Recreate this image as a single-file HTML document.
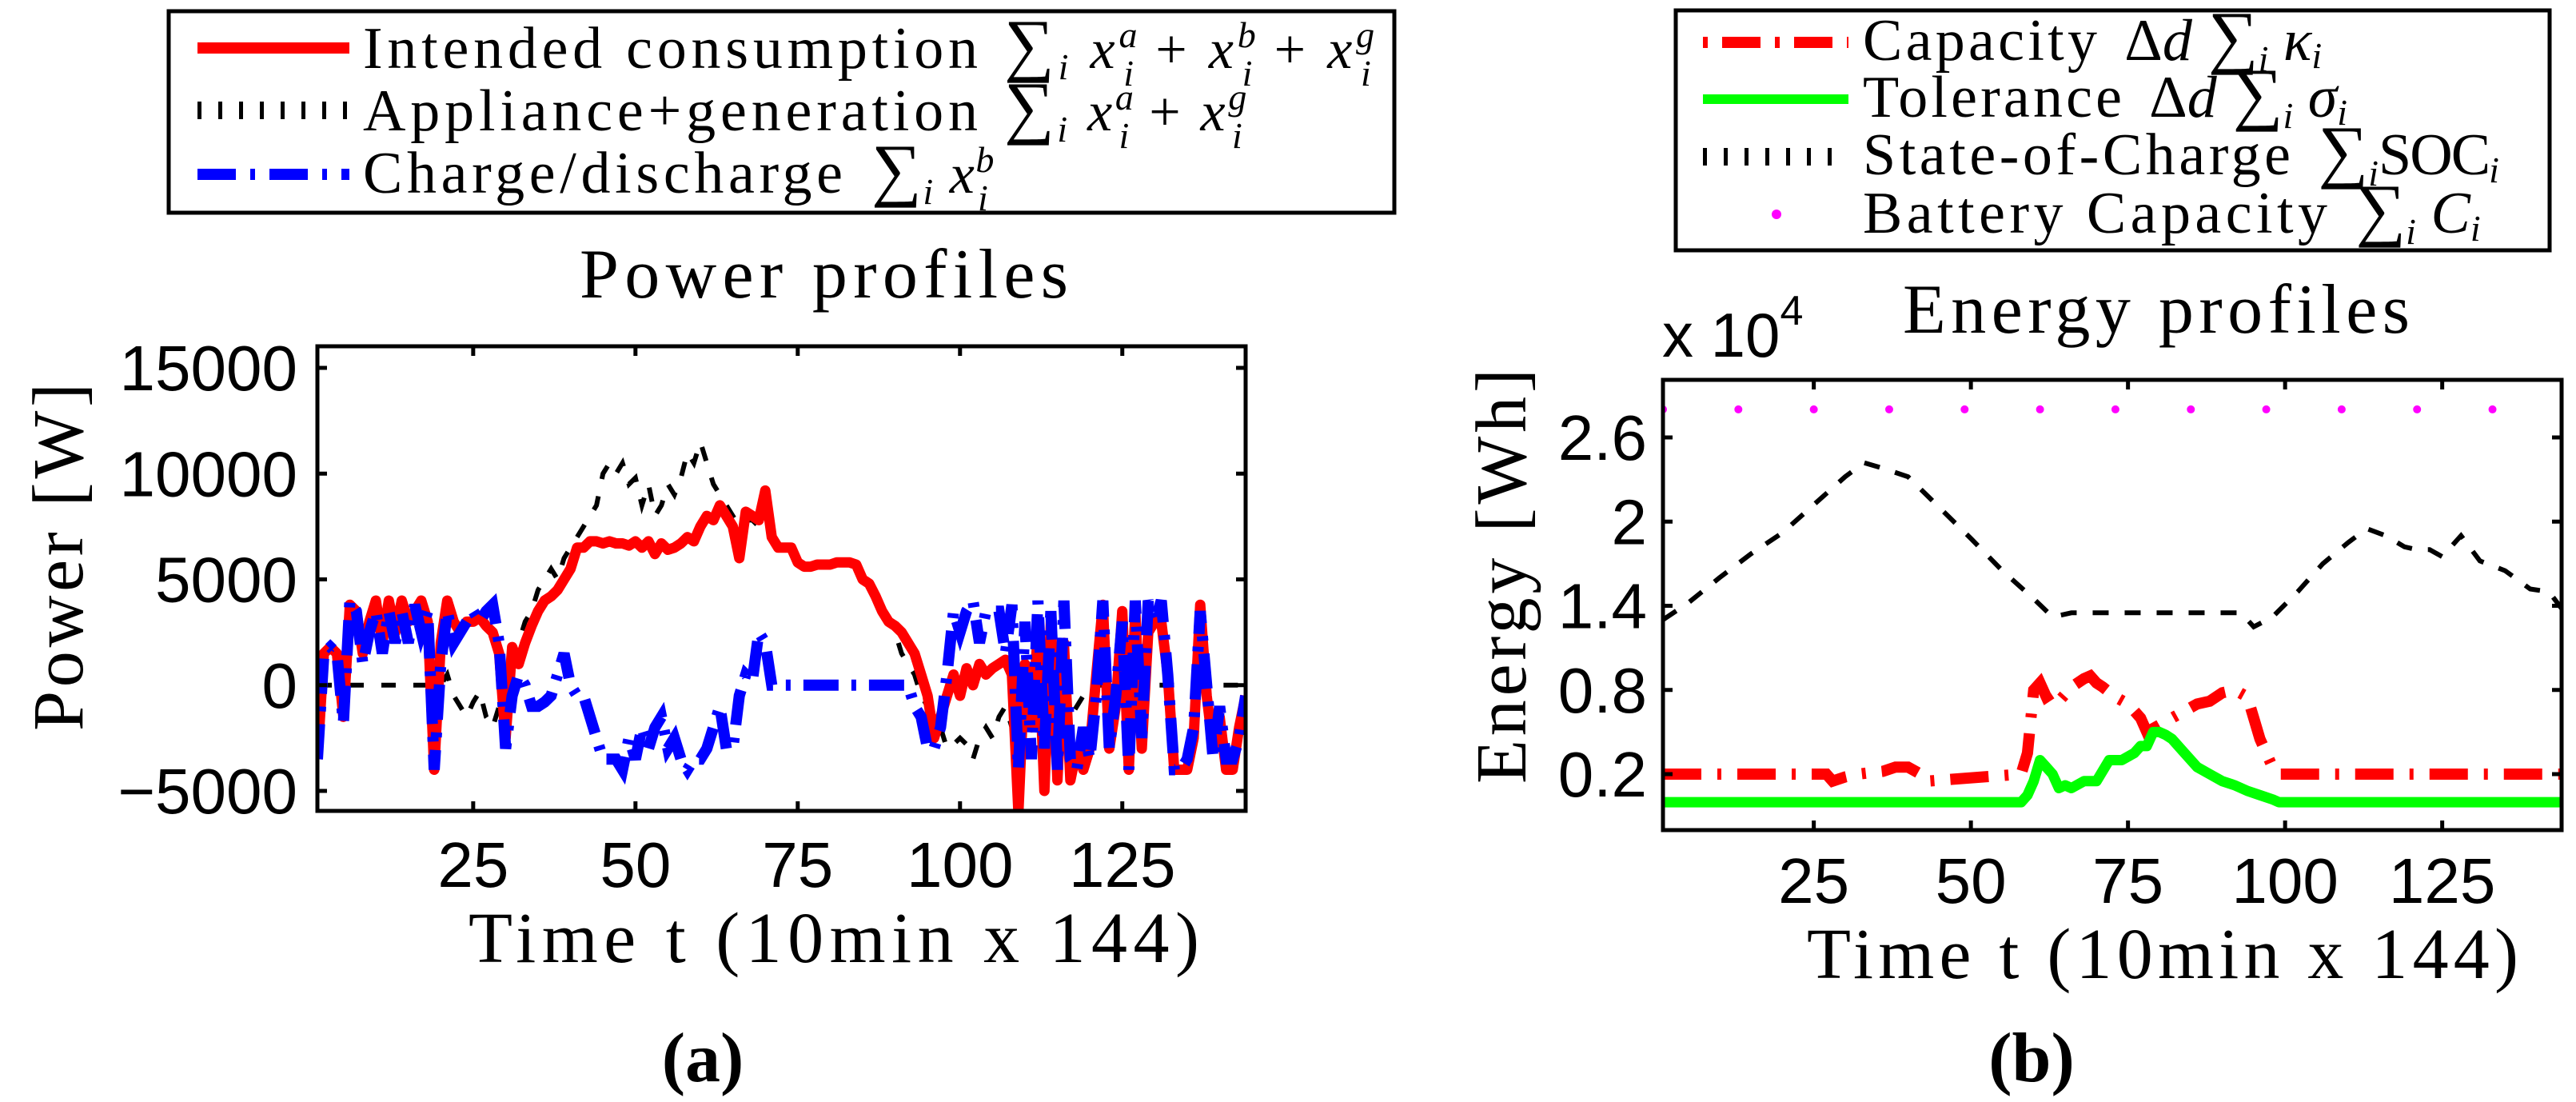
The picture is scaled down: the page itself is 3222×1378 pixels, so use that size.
<!DOCTYPE html>
<html><head><meta charset="utf-8"><style>
html,body{margin:0;padding:0;background:#fff;}
svg{display:block;}
.serif{font-family:"Liberation Serif",serif;}
.sans{font-family:"Liberation Sans",sans-serif;}
</style></head><body>
<svg id="fig" width="3222" height="1378" viewBox="0 0 3222 1378" xmlns="http://www.w3.org/2000/svg">
<rect width="3222" height="1378" fill="#fff"/>
<g>
<rect x="211" y="14" width="1533" height="252" fill="#fff" stroke="#000" stroke-width="5"/>
<line x1="247" y1="60" x2="437" y2="60" stroke="#f00" stroke-width="14"/>
<line x1="247" y1="138" x2="437" y2="138" stroke="#000" stroke-width="22" stroke-dasharray="5 21"/>
<line x1="247" y1="218" x2="437" y2="218" stroke="#00f" stroke-width="14" stroke-dasharray="48 18 6 18"/>
<text class="serif" x="454" y="85" font-size="74" textLength="769" lengthAdjust="spacing">Intended consumption</text>
<text class="serif" x="1256" y="85" font-size="70" textLength="468" lengthAdjust="spacing"><tspan font-size="88">∑</tspan><tspan font-style="italic" font-size="46" dy="14">i</tspan><tspan font-style="italic" dy="-14"> x</tspan><tspan font-style="italic" font-size="46" dy="-26">a</tspan><tspan font-style="italic" font-size="46" dx="-22" dy="48">i</tspan><tspan dy="-22"> + </tspan><tspan font-style="italic">x</tspan><tspan font-style="italic" font-size="46" dy="-26">b</tspan><tspan font-style="italic" font-size="46" dx="-22" dy="48">i</tspan><tspan dy="-22"> + </tspan><tspan font-style="italic">x</tspan><tspan font-style="italic" font-size="46" dy="-26">g</tspan><tspan font-style="italic" font-size="46" dx="-22" dy="48">i</tspan></text>
<text class="serif" x="454" y="163" font-size="74" textLength="769" lengthAdjust="spacing">Appliance+generation</text>
<text class="serif" x="1256" y="163" font-size="70" textLength="307" lengthAdjust="spacing"><tspan font-size="88">∑</tspan><tspan font-style="italic" font-size="46" dy="14">i</tspan><tspan font-style="italic" dy="-14"> x</tspan><tspan font-style="italic" font-size="46" dy="-26">a</tspan><tspan font-style="italic" font-size="46" dx="-22" dy="48">i</tspan><tspan dy="-22"> + </tspan><tspan font-style="italic">x</tspan><tspan font-style="italic" font-size="46" dy="-26">g</tspan><tspan font-style="italic" font-size="46" dx="-22" dy="48">i</tspan></text>
<text class="serif" x="454" y="241" font-size="74" textLength="600" lengthAdjust="spacing">Charge/discharge</text>
<text class="serif" x="1090" y="241" font-size="70" textLength="155" lengthAdjust="spacing"><tspan font-size="88">∑</tspan><tspan font-style="italic" font-size="46" dy="14">i</tspan><tspan font-style="italic" dy="-14"> x</tspan><tspan font-style="italic" font-size="46" dy="-26">b</tspan><tspan font-style="italic" font-size="46" dx="-22" dy="48">i</tspan></text>
</g>
<g>
<rect x="2096" y="13" width="1093" height="300" fill="#fff" stroke="#000" stroke-width="5"/>
<line x1="2130" y1="53" x2="2312" y2="53" stroke="#f00" stroke-width="14" stroke-dasharray="6 18 48 18"/>
<line x1="2130" y1="124" x2="2312" y2="124" stroke="#0f0" stroke-width="12"/>
<line x1="2130" y1="196" x2="2312" y2="196" stroke="#000" stroke-width="22" stroke-dasharray="5 21"/>
<circle cx="2222" cy="268" r="6" fill="#f0f"/>
<text class="serif" x="2330" y="75" font-size="74"><tspan textLength="293" lengthAdjust="spacing">Capacity</tspan><tspan dx="30">Δ</tspan><tspan font-style="italic">d</tspan><tspan dx="20" font-size="88">∑</tspan><tspan font-style="italic" font-size="46" dy="14">i</tspan><tspan font-style="italic" dy="-14"> κ</tspan><tspan font-style="italic" font-size="46" dy="10">i</tspan></text>
<text class="serif" x="2330" y="146" font-size="74"><tspan textLength="324" lengthAdjust="spacing">Tolerance</tspan><tspan dx="30">Δ</tspan><tspan font-style="italic">d</tspan><tspan dx="20" font-size="88">∑</tspan><tspan font-style="italic" font-size="46" dy="14">i</tspan><tspan font-style="italic" dy="-14"> σ</tspan><tspan font-style="italic" font-size="46" dy="10">i</tspan></text>
<text class="serif" x="2330" y="218" font-size="74"><tspan textLength="535" lengthAdjust="spacing">State-of-Charge</tspan><tspan dx="30" font-size="88">∑</tspan><tspan font-style="italic" font-size="46" dy="14">i</tspan><tspan dy="-14" textLength="140" lengthAdjust="spacing">SOC</tspan><tspan font-style="italic" font-size="46" dy="10">i</tspan></text>
<text class="serif" x="2330" y="291" font-size="74"><tspan textLength="581" lengthAdjust="spacing">Battery Capacity</tspan><tspan dx="30" font-size="88">∑</tspan><tspan font-style="italic" font-size="46" dy="14">i</tspan><tspan font-style="italic" dy="-14"> C</tspan><tspan font-style="italic" font-size="46" dy="10">i</tspan></text>
</g>
<text class="serif" x="725" y="372" font-size="88" textLength="611" lengthAdjust="spacing">Power profiles</text>
<text class="serif" x="2380" y="416" font-size="88" textLength="634" lengthAdjust="spacing">Energy profiles</text>
<text class="serif" x="586" y="1203" font-size="90" textLength="914" lengthAdjust="spacing">Time t (10min x 144)</text>
<text class="serif" x="2260" y="1223" font-size="90" textLength="890" lengthAdjust="spacing">Time t (10min x 144)</text>
<text class="serif" transform="translate(103,914) rotate(-90)" x="0" y="0" font-size="90" textLength="435" lengthAdjust="spacing">Power [W]</text>
<text class="serif" transform="translate(1908,980) rotate(-90)" x="0" y="0" font-size="90" textLength="519" lengthAdjust="spacing">Energy [Wh]</text>
<text class="sans" x="2079" y="446" font-size="78">x 10<tspan font-size="52" dy="-40">4</tspan></text>
<text class="serif" x="879" y="1352" font-size="88" font-weight="bold" text-anchor="middle">(a)</text>
<text class="serif" x="2541" y="1352" font-size="88" font-weight="bold" text-anchor="middle">(b)</text>
<g id="gA"></g>
<g id="gB"></g>
</svg>
<script>
const timeSteps = Array.from({length:144},(_, i)=>i+1);
const intendedW = [-3500,1500,1800,1500,-1500,3800,3500,1500,3000,4000,2000,4000,2500,4000,3000,3500,4000,3000,-4000,2000,4000,3000,2500,3000,3000,3200,2800,2500,1500,-2500,1800,1000,2000,2800,3500,4000,4200,4500,5000,5500,6500,6500,6800,6800,6700,6800,6700,6700,6600,6800,6500,6800,6200,6700,6400,6500,6700,7000,6800,7500,8000,7800,8500,8000,7500,6000,8200,8000,7800,9200,7000,6500,6500,6500,5800,5600,5600,5700,5700,5700,5800,5800,5800,5700,5000,4800,4200,3500,3000,2800,2500,2000,1500,500,-500,-2500,-1500,-500,500,-500,800,0,1000,500,800,1000,1200,500,-6000,1000,-2000,2500,-5000,3000,-4500,2000,-4500,-3000,-4000,-3000,500,3800,-3000,-1000,3500,-4000,3500,-3000,2500,3000,3000,500,-4000,-4000,-4000,-2500,3800,-500,-3000,-1500,-4000,-4000,-2000,-500];
const applianceW = [0,0,0,0,0,0,0,0,0,0,0,0,0,0,0,0,0,0,0,0,500,-500,-1000,-1500,-800,-300,-1500,-2000,-1000,0,1500,2000,3000,3500,4500,5000,5500,5000,6000,6500,7000,7500,8000,8500,10000,10500,10000,10500,9500,9800,8500,9500,8000,8500,9500,9000,9800,11000,10500,11500,10500,9500,9000,8500,8000,7500,7800,7800,7500,7500,7000,6500,6500,6200,5800,5700,5700,5700,5700,5700,5700,5700,5700,5700,5000,4800,4200,3500,3000,2500,1500,1000,500,-500,-1000,-1500,-2000,-3000,-2800,-2500,-2800,-3500,-2500,-2000,-2500,-1500,-1000,-2000,-1500,-1000,-500,-1000,-1500,-800,-500,-1000,-1500,-1000,-500,-200,0,0,0,0,0,0,0,0,0,0,0,0,0,0,0,0,0,0,0,0,0,0,0,0];
const chargeW = [-3500,1500,1800,1500,-1800,4000,3500,1000,2500,3500,1500,3500,2000,3500,2000,3800,2500,3500,-4000,1000,3500,2000,2500,3000,3500,3000,3500,3800,2000,-3000,-500,500,0,-1000,-1000,-800,-500,500,1500,0,-500,-500,-1500,-2500,-3500,-3500,-3500,-4000,-2500,-3500,-2000,-3000,-2000,-1500,-3000,-2500,-3500,-4000,-3500,-3500,-3000,-2000,-1000,-3000,-3000,-500,500,200,2500,2000,0,0,0,0,0,0,0,0,0,0,0,0,0,0,0,0,0,0,0,0,0,0,-1000,-1500,-3000,-3000,-2000,500,3500,2500,3500,4000,2000,3500,3500,3500,1500,3800,-4000,3000,-3500,4000,-3000,3500,-4000,4000,-3500,-4000,-2000,-3500,-500,4000,-3000,-500,3000,-4000,4000,-2500,4000,3000,4000,500,-4000,-4000,-3500,-2000,3500,0,-3500,-1000,-3500,-3500,-2500,-500];
const powerTicks = [-5000,0,5000,10000,15000];
const timeTicks = [25,50,75,100,125];

const energySteps = [1,5,10,15,20,25,30,33,36,40,45,50,55,60,63,66,70,75,80,85,90,93,95,98,102,106,110,113,116,119,121,123,125,128,131,135,139,142,144];
const socE4 = [1.3,1.42,1.6,1.77,1.92,2.12,2.32,2.42,2.38,2.32,2.1,1.88,1.65,1.45,1.32,1.35,1.35,1.35,1.35,1.35,1.35,1.35,1.25,1.32,1.5,1.7,1.85,1.95,1.9,1.82,1.8,1.8,1.75,1.9,1.72,1.65,1.52,1.5,1.38];
const capSteps = [1,27,28,30,32,36,38,40,42,43,58,59,60,61,62,63,64,66,68,69,70,71,73,75,77,78,80,82,84,86,88,90,92,94,95,96,97,98,99,144];
const capacityE4 = [0.2,0.2,0.15,0.18,0.2,0.22,0.25,0.25,0.2,0.15,0.2,0.35,0.8,0.85,0.75,0.78,0.72,0.82,0.88,0.9,0.85,0.82,0.75,0.7,0.6,0.5,0.55,0.6,0.65,0.7,0.72,0.78,0.8,0.75,0.6,0.45,0.35,0.25,0.2,0.2];
const tolSteps = [1,58,59,60,61,62,63,64,65,66,68,70,72,74,76,77,78,79,80,81,82,84,86,88,90,92,94,96,98,99,144];
const toleranceE4 = [0,0,0.05,0.15,0.3,0.25,0.2,0.1,0.12,0.1,0.15,0.15,0.3,0.3,0.35,0.4,0.4,0.5,0.5,0.48,0.45,0.35,0.25,0.2,0.15,0.12,0.08,0.05,0.02,0,0];
const batteryE4 = [2.8,2.8,2.8,2.8,2.8,2.8,2.8,2.8,2.8,2.8,2.8,2.8];
const batterySteps = [1,13,25,37,49,61,73,85,97,109,121,133];
const energyTicks = [0.2,0.8,1.4,2,2.6];

const NS='http://www.w3.org/2000/svg';
function mk(parent,tag,attrs){const e=document.createElementNS(NS,tag);for(const k in attrs)e.setAttribute(k,attrs[k]);parent.appendChild(e);return e;}

const ax={l:397,r:1558,t:433,b:1014};
const xA=t=>ax.l+(t-1)*(ax.r-ax.l)/143;
const yA=v=>989-(v+5000)*(989-460)/20000;
const bx={l:2080,r:3204,t:475,b:1038};
const xB=t=>bx.l+(t-1)*(bx.r-bx.l)/143;
const yB=v=>968-(v-0.2)*(968-547)/2.4;

function pathFrom(xs,ys,xf,yf){return xs.map((t,i)=>(i?'L':'M')+xf(t).toFixed(1)+' '+yf(ys[i]).toFixed(1)).join(' ');}

const gA=document.getElementById('gA');
const clipA=mk(gA,'clipPath',{id:'clipA'});mk(clipA,'rect',{x:ax.l,y:ax.t,width:ax.r-ax.l,height:ax.b-ax.t});
const linesA=mk(gA,'g',{'clip-path':'url(#clipA)'});
let p;
p=mk(linesA,'path',{d:pathFrom(timeSteps,applianceW,xA,yA),fill:'none',stroke:'#000','stroke-width':6,'stroke-dasharray':'18 22'});


p=mk(linesA,'path',{d:pathFrom(timeSteps,intendedW,xA,yA),fill:'none',stroke:'#f00','stroke-width':13,'stroke-linejoin':'round'});


p=mk(linesA,'path',{d:pathFrom(timeSteps,chargeW,xA,yA),fill:'none',stroke:'#00f','stroke-width':14,'stroke-dasharray':'44 16 6 16'});


mk(gA,'rect',{x:ax.l,y:ax.t,width:ax.r-ax.l,height:ax.b-ax.t,fill:'none',stroke:'#000','stroke-width':5});
powerTicks.forEach(v=>{
  mk(gA,'line',{x1:ax.l,x2:ax.l+12,y1:yA(v),y2:yA(v),stroke:'#000','stroke-width':5});
  mk(gA,'line',{x1:ax.r,x2:ax.r-12,y1:yA(v),y2:yA(v),stroke:'#000','stroke-width':5});
  const t=mk(gA,'text',{x:372,y:yA(v)+28,'font-size':80,'text-anchor':'end','class':'sans'});
  t.textContent=(v<0?'\u2212':'')+Math.abs(v);
  
  
});
timeTicks.forEach(v=>{
  mk(gA,'line',{x1:xA(v),x2:xA(v),y1:ax.b,y2:ax.b-12,stroke:'#000','stroke-width':5});
  mk(gA,'line',{x1:xA(v),x2:xA(v),y1:ax.t,y2:ax.t+12,stroke:'#000','stroke-width':5});
  const t=mk(gA,'text',{x:xA(v),y:1109,'font-size':80,'text-anchor':'middle','class':'sans'});
  t.textContent=v;
  
  
});

const gB=document.getElementById('gB');
const clipB=mk(gB,'clipPath',{id:'clipB'});mk(clipB,'rect',{x:bx.l,y:bx.t,width:bx.r-bx.l,height:bx.b-bx.t});
const linesB=mk(gB,'g',{'clip-path':'url(#clipB)'});
p=mk(linesB,'path',{d:pathFrom(energySteps,socE4,xB,yB),fill:'none',stroke:'#000','stroke-width':6,'stroke-dasharray':'20 20'});


p=mk(linesB,'path',{d:pathFrom(capSteps,capacityE4,xB,yB),fill:'none',stroke:'#f00','stroke-width':14,'stroke-dasharray':'48 20 5 20'});


p=mk(linesB,'path',{d:pathFrom(tolSteps,toleranceE4,xB,yB),fill:'none',stroke:'#0f0','stroke-width':13,'stroke-linejoin':'round'});


batterySteps.forEach((t,i)=>{
  const c=mk(linesB,'circle',{cx:xB(t),cy:yB(batteryE4[i]),r:5,fill:'#f0f'});
  
  
});
mk(gB,'rect',{x:bx.l,y:bx.t,width:bx.r-bx.l,height:bx.b-bx.t,fill:'none',stroke:'#000','stroke-width':5});
energyTicks.forEach(v=>{
  mk(gB,'line',{x1:bx.l,x2:bx.l+12,y1:yB(v),y2:yB(v),stroke:'#000','stroke-width':5});
  mk(gB,'line',{x1:bx.r,x2:bx.r-12,y1:yB(v),y2:yB(v),stroke:'#000','stroke-width':5});
  const t=mk(gB,'text',{x:2060,y:yB(v)+28,'font-size':80,'text-anchor':'end','class':'sans'});
  t.textContent=String(v);
  
  
});
timeTicks.forEach(v=>{
  mk(gB,'line',{x1:xB(v),x2:xB(v),y1:bx.b,y2:bx.b-12,stroke:'#000','stroke-width':5});
  mk(gB,'line',{x1:xB(v),x2:xB(v),y1:bx.t,y2:bx.t+12,stroke:'#000','stroke-width':5});
  const t=mk(gB,'text',{x:xB(v),y:1129,'font-size':80,'text-anchor':'middle','class':'sans'});
  t.textContent=v;
  
  
});
</script>
</body></html>
